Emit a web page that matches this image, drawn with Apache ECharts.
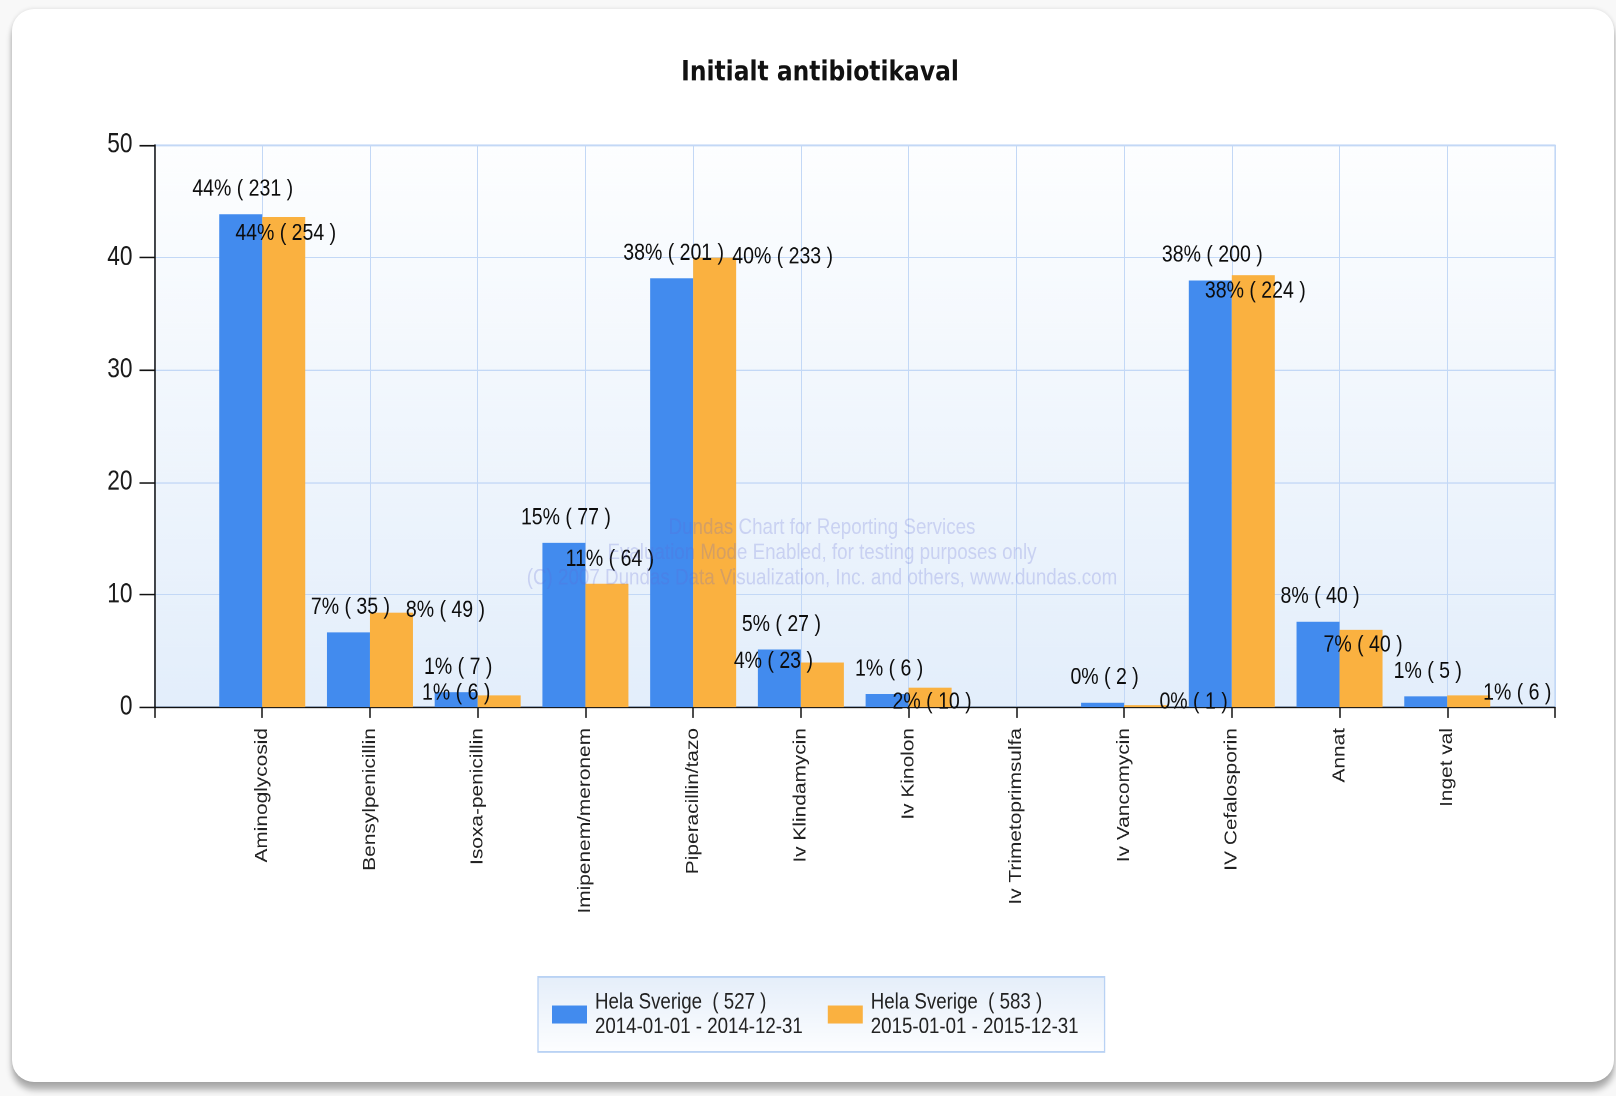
<!DOCTYPE html>
<html>
<head>
<meta charset="utf-8">
<script src="https://cdn.jsdelivr.net/npm/echarts@6/dist/echarts.min.js"></script>
<style>
  html, body { margin: 0; padding: 0; width: 1616px; height: 1096px; background: #f8f8f8; overflow: hidden; }
  #card {
    position: absolute; left: 12px; top: 9px; width: 1602px; height: 1073px;
    background: #ffffff; border-radius: 22px;
    box-shadow: 0 0 4px rgba(0,0,0,0.12), 0 8px 6px rgba(0,0,0,0.30);
  }
  #chart { position: absolute; left: 0; top: 0; width: 1616px; transform-origin: 0 0; }
</style>
</head>
<body>
<div id="card"></div>
<div id="chart"></div>
<script>
// Initial antibiotic choice, share of patients (%) per year
const categories = [
  'Aminoglycosid', 'Bensylpenicillin', 'Isoxa-penicillin', 'Imipenem/meronem',
  'Piperacillin/tazo', 'Iv Klindamycin', 'Iv Kinolon', 'Iv Trimetoprimsulfa',
  'Iv Vancomycin', 'IV Cefalosporin', 'Annat', 'Inget val'
];
const pct2014   = [43.83, 6.64, 1.33, 14.61, 38.14, 5.12, 1.14, 0, 0.38, 37.95, 7.59, 0.95];
const pct2015   = [43.57, 8.40, 1.03, 10.98, 39.97, 3.95, 1.72, 0, 0.17, 38.42, 6.86, 1.03];
const count2014 = [231, 35, 7, 77, 201, 27, 6, 0, 2, 200, 40, 5];
const count2015 = [254, 49, 6, 64, 233, 23, 10, 0, 1, 224, 40, 6];
const yTicks    = [0, 10, 20, 30, 40, 50];
const regionName = 'Hela Sverige';
const totals  = [527, 583];
const periods = ['2014-01-01 - 2014-12-31', '2015-01-01 - 2015-12-31'];

// The report renders with tall, condensed lettering: the chart is laid out
// on a shorter canvas and stretched vertically by this factor.
const STRETCH = 1.2;
const PAGE_W = 1616, PAGE_H = 1096;
const H = PAGE_H / STRETCH;
const v = (px) => px / STRETCH;   // page-space vertical length -> chart space

// Label nudges [dx, dy] (page px) so neighbouring value labels don't collide
const shift2014 = categories.map(() => [2, 0]);
const shift2015 = [[2, 41], [54, 23], [-43, 23], [3, 1], [68, 24.5], [-49, 23.5],
                   [2, 39.5], [0, 0], [48, 22], [2, 41], [2, 40], [48.5, 23]];

const SANS = '"Liberation Sans", Arial, Helvetica, sans-serif';

// Category axis has an empty slot at each end so bars sit on the tick marks
function buildData(pct, counts, shifts) {
  const items = pct.map((val, i) => ({
    value: val,
    label: {
      show: counts[i] > 0,
      offset: [shifts[i][0], v(shifts[i][1])],
      formatter: Math.round(val) + '% ( ' + counts[i] + ' )'
    }
  }));
  return ['-'].concat(items, ['-']);
}

const baseLabel = {
  show: true,
  position: 'top',
  distance: v(25) - 9.75,
  fontFamily: SANS,
  fontSize: 19.5,
  lineHeight: 19.5,
  color: '#0d0d0d'
};

const el = document.getElementById('chart');
el.style.height = H + 'px';
el.style.transform = 'scaleY(' + STRETCH + ')';

const chart = echarts.init(el, null, { renderer: 'canvas', devicePixelRatio: 2, width: PAGE_W, height: H });

const watermarkStyle = { align: 'center', verticalAlign: 'middle', font: '18.8px ' + SANS, fill: 'rgba(95,105,215,0.24)' };

chart.setOption({
  animation: false,
  title: {
    text: 'Initialt antibiotikaval',
    left: 820,
    top: v(73) - 11.7,
    padding: 0,
    textAlign: 'center',
    textStyle: { fontFamily: '"DejaVu Sans", Verdana, sans-serif', fontWeight: 'bold', fontSize: 23.4, lineHeight: 23.4, color: '#111' }
  },
  grid: {
    left: 154.5, right: 61, top: v(145), bottom: H - v(707),
    show: true,
    backgroundColor: new echarts.graphic.LinearGradient(0, 0, 0, 1, [
      { offset: 0, color: '#fdfeff' },
      { offset: 1, color: '#e3eefb' }
    ]),
    borderColor: '#b6d0f4',
    borderWidth: 1
  },
  legend: {
    left: 538, top: v(977),
    orient: 'horizontal',
    padding: [v(13), 26, v(13), 14],
    itemWidth: 35, itemHeight: v(18), itemGap: 25,
    icon: 'rect',
    backgroundColor: new echarts.graphic.LinearGradient(0, 0, 0, 1, [
      { offset: 0, color: '#e5eefa' },
      { offset: 1, color: '#fdfeff' }
    ]),
    borderColor: '#b9d2f4',
    borderWidth: 1.3,
    textStyle: { fontFamily: SANS, fontSize: 18.7, lineHeight: v(24.5), color: '#222', padding: [0, 0, 0, 3] }
  },
  xAxis: {
    type: 'category',
    data: [''].concat(categories, ['']),
    boundaryGap: false,
    axisLine: { lineStyle: { color: '#111', width: 1.3 } },
    axisTick: { show: true, length: v(11), interval: 0, lineStyle: { color: '#111', width: 1.5 } },
    axisLabel: { interval: 0, rotate: 90, margin: v(21), fontFamily: SANS, fontSize: 17.4, color: '#222' },
    splitLine: { show: true, interval: 0, lineStyle: { color: '#c3d8f6', width: 1 } }
  },
  yAxis: {
    type: 'value',
    min: yTicks[0],
    max: yTicks[yTicks.length - 1],
    interval: yTicks[1] - yTicks[0],
    axisLine: { show: true, lineStyle: { color: '#111', width: 1.5 } },
    axisTick: { show: true, length: 15, lineStyle: { color: '#111', width: 1.3 } },
    axisLabel: { margin: 22, fontFamily: SANS, fontSize: 22.7, color: '#1a1a1a' },
    splitLine: { show: true, lineStyle: { color: '#c3d8f6', width: 1 } }
  },
  series: [
    {
      name: regionName + '  ( ' + totals[0] + ' )\n' + periods[0],
      type: 'bar',
      barWidth: 43,
      barGap: '0%',
      itemStyle: { color: '#428bee' },
      label: baseLabel,
      data: buildData(pct2014, count2014, shift2014)
    },
    {
      name: regionName + '  ( ' + totals[1] + ' )\n' + periods[1],
      type: 'bar',
      barWidth: 43,
      barGap: '0%',
      itemStyle: { color: '#fab140' },
      label: baseLabel,
      data: buildData(pct2015, count2015, shift2015)
    }
  ],
  graphic: [
    { type: 'text', x: 822, y: v(528), z: 100, silent: true,
      style: Object.assign({ text: 'Dundas Chart for Reporting Services' }, watermarkStyle) },
    { type: 'text', x: 822, y: v(553), z: 100, silent: true,
      style: Object.assign({ text: 'Evaluation Mode Enabled, for testing purposes only' }, watermarkStyle) },
    { type: 'text', x: 822, y: v(578), z: 100, silent: true,
      style: Object.assign({ text: '(C) 2007 Dundas Data Visualization, Inc. and others, www.dundas.com' }, watermarkStyle) }
  ]
});
</script>
</body>
</html>
